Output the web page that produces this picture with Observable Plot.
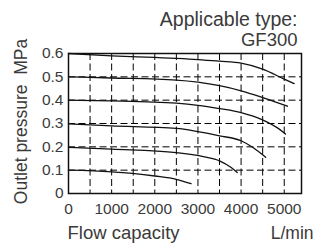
<!DOCTYPE html>
<html>
<head>
<meta charset="utf-8">
<script src="https://cdn.jsdelivr.net/npm/d3@7"></script>
<script src="https://cdn.jsdelivr.net/npm/@observablehq/plot@0.6"></script>
<style>
  html, body { margin: 0; padding: 0; background: #fff; }
  svg { display: block; }
</style>
</head>
<body>
<div id="chart"></div>
<script>
// Set pressures (MPa) for each curve
const setPressures = [0.6, 0.5, 0.4, 0.3, 0.2, 0.1];

// Flow (L/min) and outlet pressure (MPa)
const flow06 = [0, 1000, 2000, 2500, 3000, 3500, 4000, 4500, 5000, 5230];
const pres06 = [0.6, 0.59, 0.583, 0.579, 0.574, 0.567, 0.559, 0.533, 0.49, 0.471];

const flow05 = [0, 1000, 2500, 3000, 3500, 4000, 4500, 5075];
const pres05 = [0.5, 0.495, 0.486, 0.477, 0.462, 0.44, 0.411, 0.374];

const flow04 = [0, 1000, 2500, 3000, 3500, 4000, 4470, 4860, 5030];
const pres04 = [0.4, 0.397, 0.387, 0.378, 0.364, 0.347, 0.318, 0.279, 0.255];

const flow03 = [0, 1000, 2500, 3000, 3500, 4000, 4275, 4570];
const pres03 = [0.298, 0.29, 0.279, 0.265, 0.247, 0.226, 0.197, 0.155];

const flow02 = [0, 1000, 2500, 3150, 3500, 3770, 3910];
const pres02 = [0.198, 0.19, 0.175, 0.157, 0.14, 0.111, 0.09];

const flow01 = [0, 1000, 1480, 2000, 2500, 2840];
const pres01 = [0.1, 0.093, 0.086, 0.075, 0.061, 0.042];

// Axis ticks and grid positions
const xTicks = [0, 1000, 2000, 3000, 4000, 5000];
const yTicks = [0, 0.1, 0.2, 0.3, 0.4, 0.5, 0.6];
const xGrid = [500, 1000, 1500, 2000, 2500, 3000, 3500, 4000, 4500, 5000];
const yGrid = [0.1, 0.2, 0.3, 0.4, 0.5];

const titleLine1 = "Applicable type:";
const titleLine2 = "GF300";
const xLabel = "Flow capacity";
const xUnit = "L/min";
const yLabel = "Outlet pressure\u00a0 MPa";

const flows = [flow06, flow05, flow04, flow03, flow02, flow01];
const pressures = [pres06, pres05, pres04, pres03, pres02, pres01];
const curveData = setPressures.flatMap((s, i) =>
  flows[i].map((f, j) => ({set: s, flow: f, pressure: pressures[i][j]}))
);

const font = "Liberation Sans, Arial, Helvetica, sans-serif";
const textColor = "#3a3a3a";

const chart = Plot.plot({
  width: 315,
  height: 248,
  marginLeft: 68,
  marginRight: 14,
  marginTop: 53,
  marginBottom: 55,
  style: {fontFamily: font, background: "#fff", overflow: "visible"},
  x: {domain: [0, 5400]},
  y: {domain: [0, 0.6]},
  marks: [
    Plot.ruleX(xGrid, {stroke: "#000", strokeWidth: 1, strokeDasharray: "7,3.5"}),
    Plot.ruleY(yGrid, {stroke: "#000", strokeWidth: 1, strokeDasharray: "7,3.5"}),
    Plot.line(curveData, {x: "flow", y: "pressure", z: "set", curve: "monotone-x", stroke: "#111", strokeWidth: 1.3}),
    Plot.frame({stroke: "#111", strokeWidth: 1.5}),
    Plot.axisX({ticks: xTicks, tickSize: 0, tickPadding: 9, fontSize: 15.5, label: null,
      tickFormat: d => String(d), fill: textColor}),
    Plot.axisY({ticks: yTicks, tickSize: 0, tickPadding: 5, fontSize: 15.5, label: null,
      tickFormat: d => d === 0 ? "0" : d.toFixed(1), fill: textColor}),
    Plot.text([titleLine1], {frameAnchor: "top-right", lineAnchor: "bottom", dx: -4, dy: -28, fontSize: 19.5, fill: textColor}),
    Plot.text([titleLine2], {frameAnchor: "top-right", lineAnchor: "bottom", dx: -4, dy: -8, fontSize: 18.5, fill: textColor}),
    Plot.text([xLabel], {frameAnchor: "bottom-left", textAnchor: "start", lineAnchor: "bottom", dx: -1, dy: 45, fontSize: 18.5, fill: textColor}),
    Plot.text([xUnit], {frameAnchor: "bottom-right", textAnchor: "end", lineAnchor: "bottom", dx: 12, dy: 45, fontSize: 17.5, fill: textColor}),
    Plot.text([yLabel], {frameAnchor: "left", rotate: -90, textAnchor: "middle", lineAnchor: "middle", dx: -47, dy: -2, fontSize: 17.5, fill: textColor})
  ]
});
document.getElementById("chart").appendChild(chart);
</script>
</body>
</html>
